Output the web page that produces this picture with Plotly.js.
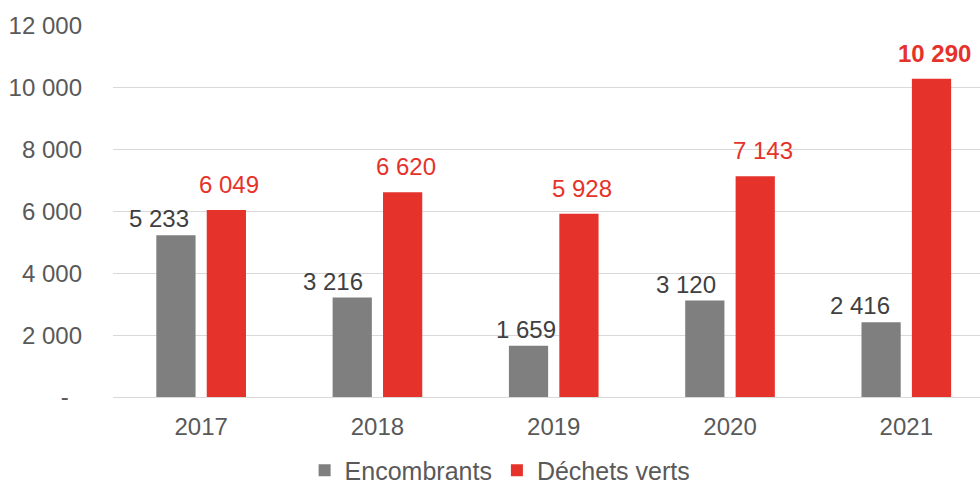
<!DOCTYPE html>
<html>
<head>
<meta charset="utf-8">
<script src="https://cdn.plot.ly/plotly-3.0.1.min.js"></script>
<style>html,body{margin:0;padding:0;background:#fff;}#chart{width:980px;height:485px;}</style>
</head>
<body>
<div id="chart"></div>
<script>
// ---- data ----
const years = ['2017', '2018', '2019', '2020', '2021'];
const encombrants = [5233, 3216, 1659, 3120, 2416];
const dechetsVerts = [6049, 6620, 5928, 7143, 10290];
const seriesNames = ['Encombrants', 'Déchets verts'];
const yTickVals = [0, 2000, 4000, 6000, 8000, 10000, 12000];

// ---- styling (label pixel nudges, not data) ----
const greyColor = '#7f7f7f';
const redColor = '#e5322a';
const greyLabelDx = [-17, -19, -3, -19, -21];
const redLabelDx = [3, 3, 3, 8, 3];
const FONT = 'Liberation Sans, Arial, sans-serif';

function fmt(v) {
  if (v === 0) return '-\u00a0\u00a0';
  return String(v).replace(/\B(?=(\d{3})+(?!\d))/g, '\u00a0');
}

const traces = [
  {type: 'bar', name: seriesNames[0], x: years, y: encombrants,
   marker: {color: greyColor}, hoverinfo: 'skip'},
  {type: 'bar', name: seriesNames[1], x: years, y: dechetsVerts,
   marker: {color: redColor}, hoverinfo: 'skip'}
];

const slot = 0.143; // half distance between bar centres in category units
const annotations = [];
years.forEach((yr, i) => {
  annotations.push({
    x: i - slot, y: encombrants[i], xref: 'x', yref: 'y',
    text: fmt(encombrants[i]), showarrow: false,
    xanchor: 'center', yanchor: 'bottom', xshift: greyLabelDx[i], yshift: 1,
    font: {family: FONT, size: 24, color: '#404040'}
  });
  const last = i === years.length - 1;
  annotations.push({
    x: i + slot, y: dechetsVerts[i], xref: 'x', yref: 'y',
    text: last ? '<b>' + fmt(dechetsVerts[i]) + '</b>' : fmt(dechetsVerts[i]),
    showarrow: false,
    xanchor: 'center', yanchor: 'bottom', xshift: redLabelDx[i], yshift: 10,
    font: {family: FONT, size: 24, color: redColor}
  });
});

const layout = {
  width: 980, height: 485,
  margin: {l: 113, r: 0, t: 26, b: 88, pad: 0, autoexpand: false},
  paper_bgcolor: '#ffffff', plot_bgcolor: '#ffffff',
  font: {family: FONT, size: 24, color: '#595959'},
  barmode: 'group', bargap: 0.428, bargroupgap: 0.222,
  xaxis: {
    type: 'category', range: [-0.5, 4.418], automargin: false,
    showgrid: false, zeroline: false,
    showline: true, linecolor: '#d9d9d9', linewidth: 1.3,
    ticks: '', ticklabelstandoff: 8,
    tickfont: {family: FONT, size: 24, color: '#595959'}
  },
  yaxis: {
    range: [0, 12000], tickmode: 'array', tickvals: yTickVals, automargin: false,
    ticktext: yTickVals.map(fmt),
    showgrid: true, gridcolor: '#d9d9d9', gridwidth: 1.3,
    zeroline: false, showline: false, ticks: '', ticklabelstandoff: 30,
    tickfont: {family: FONT, size: 24, color: '#595959'}
  },
  showlegend: true,
  legend: {
    orientation: 'h', x: 0.221, xanchor: 'left', y: -0.198, yanchor: 'middle',
    font: {family: FONT, size: 25, color: '#595959'},
    itemwidth: 30, tracegroupgap: 0, bgcolor: 'rgba(0,0,0,0)'
  },
  annotations: annotations
};

Plotly.newPlot('chart', traces, layout, {displayModeBar: false, staticPlot: true});
</script>
</body>
</html>
